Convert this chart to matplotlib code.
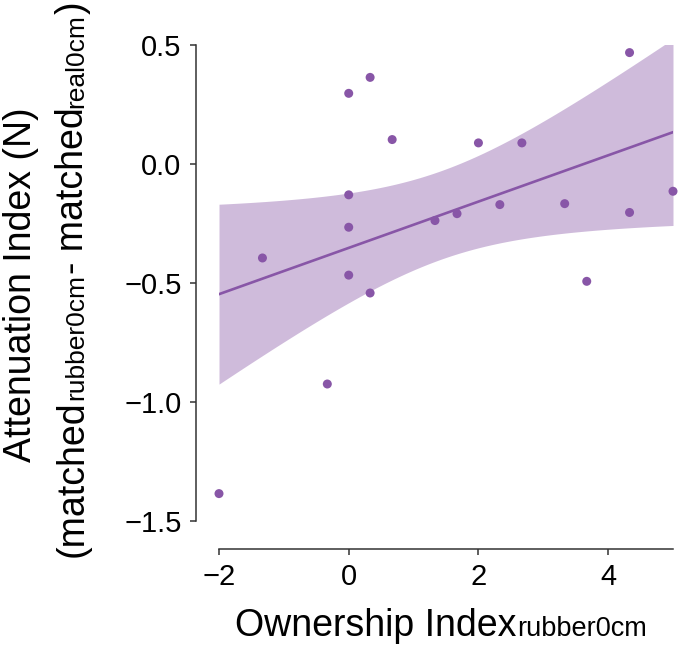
import matplotlib
matplotlib.use("Agg")
import matplotlib.pyplot as plt
import numpy as np
from matplotlib.transforms import IdentityTransform

# ownership index vs attenuation index, one point per participant
ownership = [-2.0, -1.33, -0.33, 0.0, 0.0, 0.0, 0.0, 0.33, 0.33, 0.67,
             1.33, 1.67, 2.0, 2.33, 2.67, 3.33, 3.67, 4.33, 4.33, 5.0]
attenuation = [-1.385, -0.396, -0.925, 0.295, -0.131, -0.267, -0.468, 0.362, -0.543, 0.101,
               -0.239, -0.21, 0.087, -0.172, 0.087, -0.168, -0.494, 0.466, -0.205, -0.116]
xticks = [-2, 0, 2, 4]
yticks = [-1.5, -1.0, -0.5, 0.0, 0.5]

purple = "#8856a7"
plt.rcParams["font.family"] = ["Liberation Sans", "DejaVu Sans"]

W, H = 680, 655
fig = plt.figure(figsize=(W / 100, H / 100), dpi=100)
ax = fig.add_axes([219 / W, (H - 521) / H, 454 / W, 476.5 / H])

x = np.array(ownership)
y = np.array(attenuation)

# OLS fit with analytic 95% confidence band
n = len(x)
slope, intercept = np.polyfit(x, y, 1)
resid = y - (slope * x + intercept)
s = np.sqrt(np.sum(resid ** 2) / (n - 2))
sxx = np.sum((x - x.mean()) ** 2)
t_crit = 2.1009  # t(0.975, df=18)
xs = np.linspace(-2, 5, 200)
fit = slope * xs + intercept
half = t_crit * s * np.sqrt(1 / n + (xs - x.mean()) ** 2 / sxx)

ax.fill_between(xs, fit - half, fit + half, color=purple, alpha=0.4, linewidth=0)
ax.plot(xs, fit, color=purple, linewidth=1.9)
ax.scatter(x, y, s=42, color=purple, edgecolors="none", zorder=3, clip_on=False)

ax.set_xlim(-2, 5)
ax.set_ylim(-1.5, 0.5)
ax.set_xticks(xticks)
ax.set_yticks(yticks)
ax.set_yticklabels(["\u22121.5", "\u22121.0", "\u22120.5", "0.0", "0.5"])

for side in ["top", "right"]:
    ax.spines[side].set_visible(False)
ax.spines["left"].set_position(("outward", 16.5))
ax.spines["bottom"].set_position(("outward", 20))
for side in ["left", "bottom"]:
    ax.spines[side].set_color("#333333")
    ax.spines[side].set_linewidth(1.1)
ax.tick_params(length=4.5, width=1.1, color="#333333", labelsize=21, pad=6)


def rich_text(pieces, cx, cy, rotation=0):
    # pieces laid end to end on one baseline, centred on (cx, cy) in pixels
    renderer = fig.canvas.get_renderer()
    texts = []
    for txt, size in pieces:
        t = fig.text(0, 0, txt, fontsize=size, transform=IdentityTransform(),
                     rotation=rotation, rotation_mode="anchor",
                     ha="left", va="baseline")
        texts.append(t)
    lengths = []
    for t in texts:
        bb = t.get_window_extent(renderer)
        lengths.append(bb.height if rotation == 90 else bb.width)
    pos = -sum(lengths) / 2
    for t, L in zip(texts, lengths):
        if rotation == 90:
            t.set_position((cx, cy + pos))
        else:
            t.set_position((cx + pos, cy))
        pos += L


rich_text([("Ownership Index", 27), ("rubber0cm", 19.5)], 441, H - 636)
rich_text([("Attenuation Index (N)", 27), ], 31, H - 285, rotation=90)
rich_text([("(matched", 27), ("rubber0cm", 19), ("- matched", 27),
           ("real0cm", 19), (")", 27)], 83, H - 279, rotation=90)

fig.savefig("out.png", dpi=100)
